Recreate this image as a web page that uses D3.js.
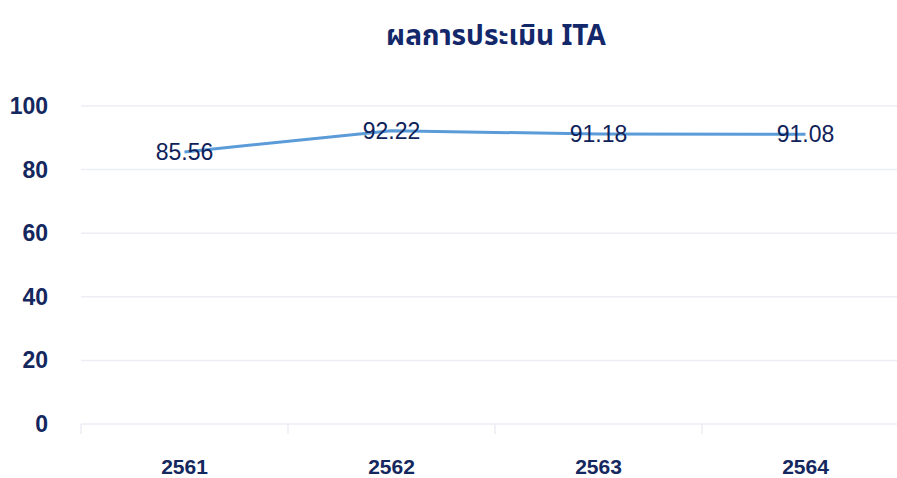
<!DOCTYPE html>
<html>
<head>
<meta charset="utf-8">
<script src="https://cdn.jsdelivr.net/npm/d3@7"></script>
<style>
  body { margin: 0; background: #fff; }
  text { font-family: "Liberation Sans", Arial, sans-serif; fill: #14275e; }
</style>
</head>
<body>
<div id="chart"></div>
<script>
var years = ["2561", "2562", "2563", "2564"];
var scores = [85.56, 92.22, 91.18, 91.08];
var yTicks = [0, 20, 40, 60, 80, 100];
var titleText = "ผลการประเมิน ITA";

var svgWidth = 897;
var svgHeight = 478;

var margin = { top: 106, right: -12, bottom: 54, left: 81 };
var width = svgWidth - margin.left - margin.right;
var height = svgHeight - margin.top - margin.bottom;

var svg = d3.select("#chart")
  .append("svg")
  .attr("width", svgWidth)
  .attr("height", svgHeight);

svg.append("text")
  .attr("x", 496)
  .attr("y", 45)
  .attr("text-anchor", "middle")
  .style("font-family", "'Noto Sans Thai', 'Noto Sans', 'DejaVu Sans', sans-serif")
  .style("font-size", "28px")
  .style("font-weight", "bold")
  .style("fill", "#13286a")
  .text(titleText);

var chartGroup = svg.append("g")
  .attr("transform", `translate(${margin.left}, ${margin.top})`);

var xScale = d3.scaleBand()
  .domain(years)
  .range([0, width]);

var yScale = d3.scaleLinear()
  .domain([0, 100])
  .range([height, 0]);

// gridlines
chartGroup.selectAll("line.grid")
  .data(yTicks)
  .enter()
  .append("line")
  .attr("class", "grid")
  .attr("x1", 0)
  .attr("x2", width)
  .attr("y1", d => yScale(d))
  .attr("y2", d => yScale(d))
  .attr("stroke", "#eceef4")
  .attr("stroke-width", 1.5);

// y labels
chartGroup.selectAll("text.ylab")
  .data(yTicks)
  .enter()
  .append("text")
  .attr("class", "ylab")
  .attr("x", -33)
  .attr("y", d => yScale(d))
  .attr("dy", "0.35em")
  .attr("text-anchor", "end")
  .style("font-size", "23px")
  .style("font-weight", "bold")
  .text(d => d);

// x axis
var bottomAxis = d3.axisBottom(xScale).tickSize(0).tickPadding(0);
var xAxis = chartGroup.append("g")
  .attr("transform", `translate(0, ${height})`)
  .call(bottomAxis);
xAxis.select(".domain").remove();
xAxis.selectAll("text")
  .attr("y", 43)
  .attr("dy", "0.35em")
  .style("font-size", "21px")
  .style("font-weight", "bold")
  .style("fill", "#14275e")
  .style("font-family", "'Liberation Sans', Arial, sans-serif");

// category boundary ticks
var boundaries = years.map(d => xScale(d)).concat([width]);
chartGroup.selectAll("line.btick")
  .data(boundaries)
  .enter()
  .append("line")
  .attr("class", "btick")
  .attr("x1", d => d)
  .attr("x2", d => d)
  .attr("y1", height)
  .attr("y2", height + 10)
  .attr("stroke", "#eceef4")
  .attr("stroke-width", 1.5);

var line = d3.line()
  .x((d, i) => xScale(years[i]) + xScale.bandwidth() / 2)
  .y(d => yScale(d));

chartGroup.append("path")
  .datum(scores)
  .attr("d", line)
  .attr("fill", "none")
  .attr("stroke", "#5b9bd8")
  .attr("stroke-width", 3);

chartGroup.selectAll("text.val")
  .data(scores)
  .enter()
  .append("text")
  .attr("class", "val")
  .attr("x", (d, i) => xScale(years[i]) + xScale.bandwidth() / 2)
  .attr("y", d => yScale(d))
  .attr("dy", "0.35em")
  .attr("text-anchor", "middle")
  .style("font-size", "23px")
  .style("fill", "#0f2259")
  .text(d => d.toFixed(2));
</script>
</body>
</html>
